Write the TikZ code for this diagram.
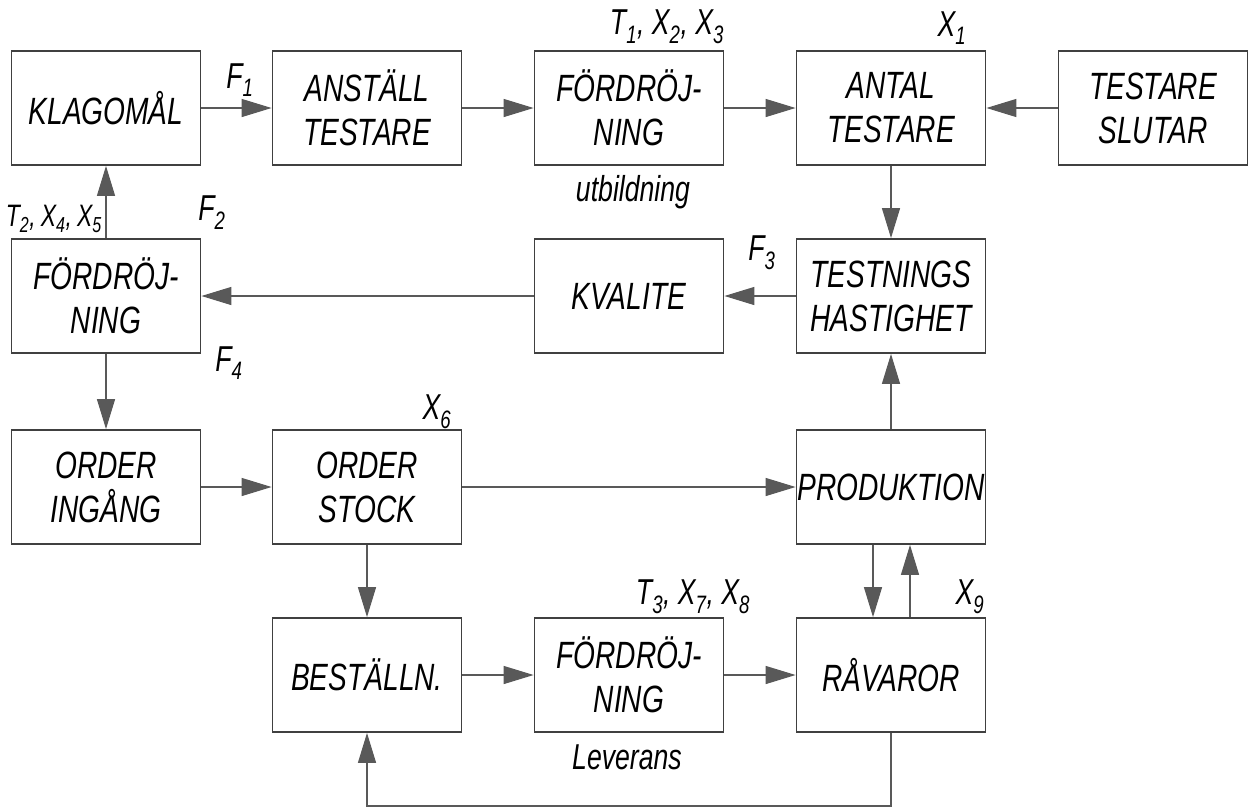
\documentclass[tikz,border=0pt]{standalone}
\usepackage{fontspec}
\usepackage{tikz}
\usetikzlibrary{arrows.meta}
\newfontfamily\hand[FakeStretch=0.74]{Liberation Sans}

\begin{document}
\begin{tikzpicture}[x=1pt, y=-1pt,
  blk/.style={draw=black!75, line width=1.8pt, minimum width=189pt,
    minimum height=114pt, inner sep=0pt, align=center,
    font=\hand\itshape\fontsize{38}{44}\selectfont},
  lbl/.style={inner sep=1pt, font=\hand\itshape\fontsize{36}{40}\selectfont},
  flow/.style={draw=black!65, line width=1.3pt,
    -{Triangle[length=30pt,width=18pt]}}]
  \useasboundingbox (0,0) rectangle (1255,809);
  % boxes
  \node[blk] (klago) at (106,108) {KLAGOMÅL};
  \node[blk] (anst) at (367,108) {ANSTÄLL\\TESTARE};
  \node[blk] (utb) at (629,108) {FÖRDRÖJ-\\NING};
  \node[blk] (antal) at (891,108) {ANTAL\\TESTARE};
  \node[blk] (slutar) at (1153,108) {TESTARE\\SLUTAR};
  \node[blk] (dkl) at (106,296) {FÖRDRÖJ-\\NING};
  \node[blk] (kval) at (629,296) {KVALITE};
  \node[blk] (testh) at (891,296) {TESTNINGS\\HASTIGHET};
  \node[blk] (oin) at (106,487) {ORDER\\INGÅNG};
  \node[blk] (ost) at (367,487) {ORDER\\STOCK};
  \node[blk] (prod) at (891,487) {PRODUKTION};
  \node[blk] (best) at (367,675) {BESTÄLLN.};
  \node[blk] (lev) at (629,675) {FÖRDRÖJ-\\NING};
  \node[blk] (rav) at (891,675) {RÅVAROR};
  % labels
  \node[lbl] (f1) at (240,80) {F\textsubscript{1}};
  \node[lbl] (t1) at (667,27) {T\textsubscript{1}, X\textsubscript{2}, X\textsubscript{3}};
  \node[lbl] (utbl) at (633,192) {utbildning};
  \node[lbl] (x1) at (952,28) {X\textsubscript{1}};
  \node[lbl, anchor=east, font=\hand\itshape\fontsize{31}{36}\selectfont]
    (t2) at (103,219) {T\textsubscript{2},\,X\textsubscript{4},\,X\textsubscript{5}};
  \node[lbl] (f2) at (212,213) {F\textsubscript{2}};
  \node[lbl] (f3) at (762,253) {F\textsubscript{3}};
  \node[lbl] (f4) at (229,363) {F\textsubscript{4}};
  \node[lbl] (x6) at (437,412) {X\textsubscript{6}};
  \node[lbl] (t3) at (693,597) {T\textsubscript{3}, X\textsubscript{7}, X\textsubscript{8}};
  \node[lbl] (levl) at (627,757) {Leverans};
  \node[lbl] (x9) at (970,597) {X\textsubscript{9}};
  \coordinate (loop) at (0,806);
  % flows
  \draw[flow] (klago) -- (anst);
  \draw[flow] (anst) -- (utb);
  \draw[flow] (utb) -- (antal);
  \draw[flow] (slutar) -- (antal);
  \draw[flow] (antal) -- (testh);
  \draw[flow] (testh) -- (kval);
  \draw[flow] (kval) -- (dkl);
  \draw[flow] (dkl) -- (klago);
  \draw[flow] (dkl) -- (oin);
  \draw[flow] (oin) -- (ost);
  \draw[flow] (ost) -- (prod);
  \draw[flow] (ost) -- (best);
  \draw[flow] (prod) -- (testh);
  \draw[flow] ([xshift=-18pt]prod.south) -- ([xshift=-18pt]rav.north);
  \draw[flow] ([xshift=19pt]rav.north) -- ([xshift=19pt]prod.south);
  \draw[flow] (best) -- (lev);
  \draw[flow] (lev) -- (rav);
  \draw[flow] (rav.south) -- (rav.south |- loop) -| (best.south);
\end{tikzpicture}
\end{document}
